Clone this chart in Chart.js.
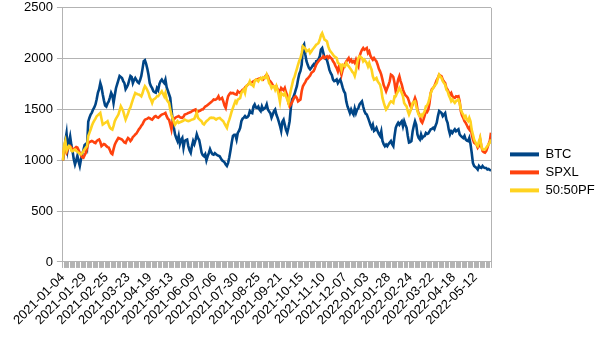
<!DOCTYPE html>
<html lang="en">
<head>
  <meta charset="UTF-8" />
  <title>BTC vs SPXL</title>
  <style>
    body { margin: 0; background: #ffffff; }
    #wrap { width: 605px; height: 340px; position: relative; }
  </style>
</head>
<body>
  <div id="wrap"><canvas id="chart"></canvas></div>
  <script src="https://cdn.jsdelivr.net/npm/chart.js"></script>
  <script>
    // shown date labels, one every 18 trading days
    const tickLabels = ['2021-01-04', '2021-01-29', '2021-02-25', '2021-03-23', '2021-04-19',
      '2021-05-13', '2021-06-09', '2021-07-06', '2021-07-30', '2021-08-25', '2021-09-21',
      '2021-10-15', '2021-11-10', '2021-12-07', '2022-01-03', '2022-01-28', '2022-02-24',
      '2022-03-22', '2022-04-18', '2022-05-12'];
    const labelStep = 18;

    const btc = [
      1000, 1080, 1190, 1265, 1110, 1180, 1235, 1150, 1090, 1010,
      960, 1000, 1045, 990, 945, 1010, 1060, 1100, 1150, 1160,
      1125, 1380, 1420, 1450, 1470, 1500, 1520, 1550, 1600, 1665,
      1700, 1760, 1720, 1650, 1590, 1540, 1530, 1560, 1580, 1620,
      1665, 1640, 1565, 1640, 1710, 1750, 1790, 1830, 1820, 1810,
      1780, 1760, 1700, 1720, 1745, 1790, 1830, 1820, 1760, 1790,
      1810, 1790, 1770, 1760, 1790, 1830, 1900, 1975, 1985, 1950,
      1900, 1840, 1760, 1730, 1710, 1680, 1670, 1665, 1710, 1690,
      1750, 1780, 1795, 1775, 1760, 1795, 1720, 1685, 1650, 1615,
      1500, 1400, 1320, 1255, 1220, 1190, 1240, 1160, 1200, 1220,
      1125, 1190, 1200, 1205, 1140, 1100, 1075, 1140, 1190, 1160,
      1200, 1255, 1220, 1200, 1140, 1075, 1050, 1040, 1060, 1000,
      1040, 1070, 1110, 1080, 1060, 1055, 1070, 1060, 1050, 1045,
      1040, 1020, 1000, 990, 980, 960, 945, 975, 1030, 1100,
      1175, 1240, 1250, 1250, 1205, 1270, 1290, 1320, 1385, 1410,
      1420, 1435, 1420, 1425, 1440, 1485, 1470, 1465, 1530, 1550,
      1520, 1515, 1530, 1500, 1485, 1530, 1500, 1510, 1520, 1550,
      1500, 1480, 1465, 1420, 1450, 1485, 1500, 1450, 1420, 1380,
      1340, 1290, 1380, 1400, 1350, 1300, 1270, 1320, 1385, 1515,
      1600, 1620, 1650, 1690, 1730, 1795, 1850, 1880, 1940, 2120,
      2140, 2040, 1975, 1940, 1910, 1895, 1910, 1930, 1945, 1925,
      1975, 1980, 1995, 2025, 2090, 2105, 2055, 2005, 2000, 1985,
      1940, 1890, 1860, 1840, 1795, 1780, 1785, 1795, 1760, 1780,
      1795, 1760, 1715, 1680, 1660, 1580, 1530, 1500, 1465, 1500,
      1470, 1450, 1510, 1465, 1500, 1515, 1550, 1565, 1580, 1530,
      1485, 1460, 1450, 1420, 1385, 1350, 1320, 1350, 1290, 1300,
      1320, 1285, 1260, 1240, 1285, 1190, 1160, 1140, 1155, 1140,
      1160, 1175, 1190, 1160, 1140, 1240, 1320, 1350, 1370, 1350,
      1370, 1385, 1335, 1385, 1350, 1320, 1240, 1175, 1180, 1190,
      1285, 1340, 1385, 1350, 1255, 1220, 1205, 1255, 1220, 1235,
      1240, 1270, 1260, 1265, 1285, 1305, 1310, 1320, 1305, 1340,
      1370, 1435, 1485, 1475, 1465, 1435, 1450, 1465, 1400, 1370,
      1300, 1255, 1285, 1270, 1290, 1305, 1285, 1295, 1305, 1255,
      1240, 1230, 1220, 1240, 1205, 1195, 1190, 1220, 1160, 1075,
      975, 945, 935, 925, 910, 945, 930, 925, 945, 930,
      925, 925, 910, 915, 905, 900
    ];

    const spxl = [
      1000, 1120, 1100, 1075, 1110, 1130, 1140, 1125, 1110, 1105,
      1120, 1130, 1125, 1100, 1075, 1050, 1030, 1025, 1050, 1075,
      1120, 1170, 1180, 1185, 1190, 1185, 1175, 1170, 1190, 1200,
      1205, 1180, 1140, 1150, 1160, 1155, 1140, 1130, 1125, 1100,
      1070, 1060, 1110, 1155, 1180, 1200, 1220, 1215, 1210, 1205,
      1190, 1175, 1170, 1200, 1220, 1210, 1190, 1205, 1230, 1240,
      1255, 1265, 1285, 1305, 1320, 1340, 1355, 1380, 1400, 1405,
      1410, 1420, 1415, 1405, 1400, 1415, 1430, 1435, 1425, 1420,
      1430, 1440, 1450, 1455, 1460, 1467, 1435, 1410, 1400, 1355,
      1305, 1385, 1400, 1418, 1425, 1430, 1435, 1425, 1420, 1418,
      1430, 1450, 1455, 1460, 1467, 1470, 1475, 1483, 1490, 1495,
      1500, 1470, 1480, 1485, 1490, 1500, 1500, 1515, 1530, 1535,
      1545, 1555, 1565, 1575, 1585, 1598, 1595, 1600, 1610, 1630,
      1600, 1605, 1614, 1580, 1540, 1516, 1580, 1630, 1650, 1665,
      1660, 1663, 1655, 1650, 1647, 1680, 1670, 1663, 1680, 1695,
      1700, 1715, 1729, 1740, 1750, 1761, 1765, 1770, 1778, 1785,
      1790, 1795, 1800, 1805, 1810, 1800, 1794, 1815, 1830, 1843,
      1827, 1790, 1778, 1761, 1740, 1729, 1712, 1729, 1700, 1690,
      1670, 1712, 1700, 1690, 1712, 1670, 1640, 1565, 1532, 1550,
      1570, 1598, 1620, 1630, 1614, 1581, 1590, 1598, 1680, 1729,
      1750, 1770, 1794, 1805, 1820, 1835, 1859, 1870, 1880, 1908,
      1941, 1960, 1975, 1990, 2000, 2010, 2023, 2007, 2015, 2023,
      2007, 2023, 2010, 2000, 1974, 1958, 1930, 1908, 1876, 1925,
      1892, 1843, 1892, 1920, 1950, 1974, 1990, 2007, 1974, 1990,
      1965, 1975, 1958, 1990, 1950, 1925, 2023, 2060, 2088, 2105,
      2088, 2095, 2105, 2056, 2072, 2030, 2007, 1990, 2007, 1990,
      1974, 1941, 1900, 1876, 1843, 1794, 1740, 1712, 1680, 1712,
      1740, 1778, 1843, 1835, 1820, 1761, 1680, 1740, 1794, 1827,
      1780, 1745, 1696, 1663, 1640, 1630, 1614, 1581, 1540, 1516,
      1549, 1580, 1614, 1581, 1500, 1460, 1434, 1385, 1369, 1400,
      1440, 1483, 1475, 1500, 1560, 1663, 1700, 1712, 1729, 1760,
      1790, 1810, 1843, 1835, 1827, 1794, 1775, 1761, 1712, 1696,
      1670, 1647, 1663, 1630, 1620, 1614, 1630, 1625, 1630, 1581,
      1483, 1440, 1418, 1385, 1369, 1345, 1320, 1303, 1336, 1260,
      1205, 1173, 1165, 1156, 1124, 1140, 1205, 1140, 1091, 1080,
      1075, 1091, 1124, 1160, 1190, 1271
    ];

    const pf5050 = [
      1000, 1150, 1190, 1095, 1120, 1140, 1130, 1095, 1090, 1100,
      1107, 1095, 1085, 1075, 1065, 1058, 1070, 1091, 1110, 1125,
      1140, 1238, 1270, 1303, 1340, 1369, 1390, 1410, 1434, 1445,
      1455, 1467, 1410, 1352, 1360, 1369, 1375, 1385, 1350, 1320,
      1310, 1303, 1340, 1385, 1410, 1430, 1450, 1490, 1532, 1510,
      1483, 1440, 1401, 1430, 1460, 1500, 1520, 1560, 1598, 1630,
      1663, 1655, 1650, 1647, 1640, 1630, 1660, 1700, 1729, 1712,
      1690, 1663, 1620, 1598, 1565, 1598, 1605, 1614, 1630, 1630,
      1650, 1663, 1680, 1655, 1630, 1663, 1598, 1580, 1565, 1500,
      1450, 1410, 1385, 1352, 1370, 1385, 1369, 1375, 1380, 1385,
      1390, 1401, 1395, 1390, 1385, 1390, 1395, 1401, 1405, 1410,
      1440, 1467, 1418, 1405, 1395, 1385, 1360, 1352, 1369, 1385,
      1395, 1405, 1418, 1420, 1418, 1418, 1410, 1401, 1410, 1415,
      1418, 1405, 1395, 1385, 1360, 1340, 1320, 1369, 1400, 1440,
      1483, 1516, 1550, 1581, 1565, 1598, 1605, 1614, 1663, 1680,
      1696, 1663, 1729, 1740, 1750, 1778, 1745, 1740, 1729, 1778,
      1794, 1790, 1778, 1800, 1810, 1794, 1817, 1815, 1810, 1843,
      1810, 1760, 1745, 1712, 1729, 1729, 1696, 1729, 1690, 1640,
      1575, 1660, 1650, 1640, 1663, 1630, 1600, 1565, 1630, 1690,
      1740, 1794, 1820, 1860, 1900, 1941, 1980, 2007, 2056, 2121,
      2110, 2100, 2072, 2080, 2088, 2056, 2072, 2090, 2105, 2121,
      2137, 2145, 2154, 2186, 2230, 2252, 2219, 2186, 2180, 2170,
      2121, 2088, 2070, 2056, 2039, 2023, 2015, 2007, 1958, 1950,
      1941, 1892, 1941, 1935, 1925, 1958, 1940, 1925, 1908, 1892,
      1870, 1859, 1830, 1880, 1960, 2007, 2023, 2015, 2007, 1974,
      1990, 1975, 1958, 1925, 1958, 1920, 1892, 1827, 1794, 1800,
      1810, 1778, 1760, 1745, 1696, 1614, 1570, 1532, 1500, 1516,
      1540, 1565, 1581, 1575, 1565, 1630, 1630, 1660, 1680, 1712,
      1690, 1663, 1630, 1565, 1545, 1532, 1483, 1450, 1480, 1516,
      1565, 1575, 1581, 1532, 1483, 1450, 1434, 1450, 1434, 1460,
      1483, 1532, 1540, 1565, 1610, 1660, 1690, 1712, 1729, 1745,
      1761, 1810, 1843, 1825, 1810, 1778, 1760, 1745, 1696, 1680,
      1640, 1614, 1581, 1598, 1580, 1565, 1581, 1590, 1598, 1565,
      1500, 1470, 1450, 1418, 1434, 1400, 1385, 1418, 1385, 1300,
      1254, 1205, 1180, 1156, 1140, 1189, 1222, 1140, 1107, 1107,
      1107, 1124, 1140, 1160, 1173, 1205
    ];

    const seriesNames = ['BTC', 'SPXL', '50:50PF'];
    const seriesColors = ['#004586', '#ff420e', '#ffd320'];

    const categories = btc.map((v, i) => i);
    const gridGray = '#b3b3b3';
    const font = { family: 'Liberation Sans', size: 13 };

    // right-hand wall line of the plot area
    const wallLine = {
      id: 'wallLine',
      afterDraw(chart) {
        const a = chart.chartArea;
        const c = chart.ctx;
        c.save();
        c.strokeStyle = gridGray;
        c.lineWidth = 1;
        c.beginPath();
        c.moveTo(Math.round(a.right) + 0.5, a.top);
        c.lineTo(Math.round(a.right) + 0.5, a.bottom);
        c.stroke();
        c.restore();
      }
    };

    new Chart(document.getElementById('chart'), {
      type: 'line',
      data: {
        labels: categories,
        datasets: [btc, spxl, pf5050].map((d, k) => ({
          label: seriesNames[k],
          data: d,
          borderColor: seriesColors[k],
          backgroundColor: seriesColors[k],
          borderWidth: 2.6,
          pointRadius: 0,
          tension: 0,
          fill: false,
          order: 2 - k
        }))
      },
      options: {
        responsive: true,
        maintainAspectRatio: false,
        animation: false,
        layout: { padding: { left: 20, top: 0, right: 3, bottom: 10 } },
        plugins: {
          tooltip: { enabled: false },
          legend: {
            position: 'right',
            title: { display: true, text: ' ', font: { size: 9 }, padding: 2 },
            labels: {
              font: font,
              color: '#000000',
              boxWidth: 29,
              boxHeight: 4,
              padding: 5,
              sort: (a, b) => a.datasetIndex - b.datasetIndex,
              generateLabels: chart =>
                Chart.defaults.plugins.legend.labels.generateLabels(chart).map(l => ({ ...l, lineWidth: 0 }))
            }
          }
        },
        scales: {
          x: {
            type: 'category',
            offset: false,
            grid: {
              display: true,
              drawOnChartArea: false,
              drawTicks: true,
              tickLength: 6,
              color: gridGray,
              lineWidth: 1
            },
            border: { display: true, color: gridGray },
            ticks: {
              autoSkip: false,
              minRotation: 45,
              maxRotation: 45,
              padding: 2,
              font: font,
              color: '#000000',
              callback: (v, i) => (i % labelStep === 0 ? tickLabels[i / labelStep] : '')
            }
          },
          y: {
            min: 0,
            max: 2500,
            grid: { color: gridGray, tickLength: 6 },
            border: { display: true, color: gridGray },
            ticks: {
              stepSize: 500,
              padding: 4,
              font: { family: 'Liberation Sans', size: 13, lineHeight: 0.6 },
              color: '#000000',
              callback: v => String(v)
            }
          },
          y2: {
            position: 'right',
            display: true,
            grid: { display: false },
            border: { display: false },
            ticks: { display: false },
            afterFit: s => { s.width = 14; }
          }
        }
      },
      plugins: [wallLine]
    });
  </script>
</body>
</html>
